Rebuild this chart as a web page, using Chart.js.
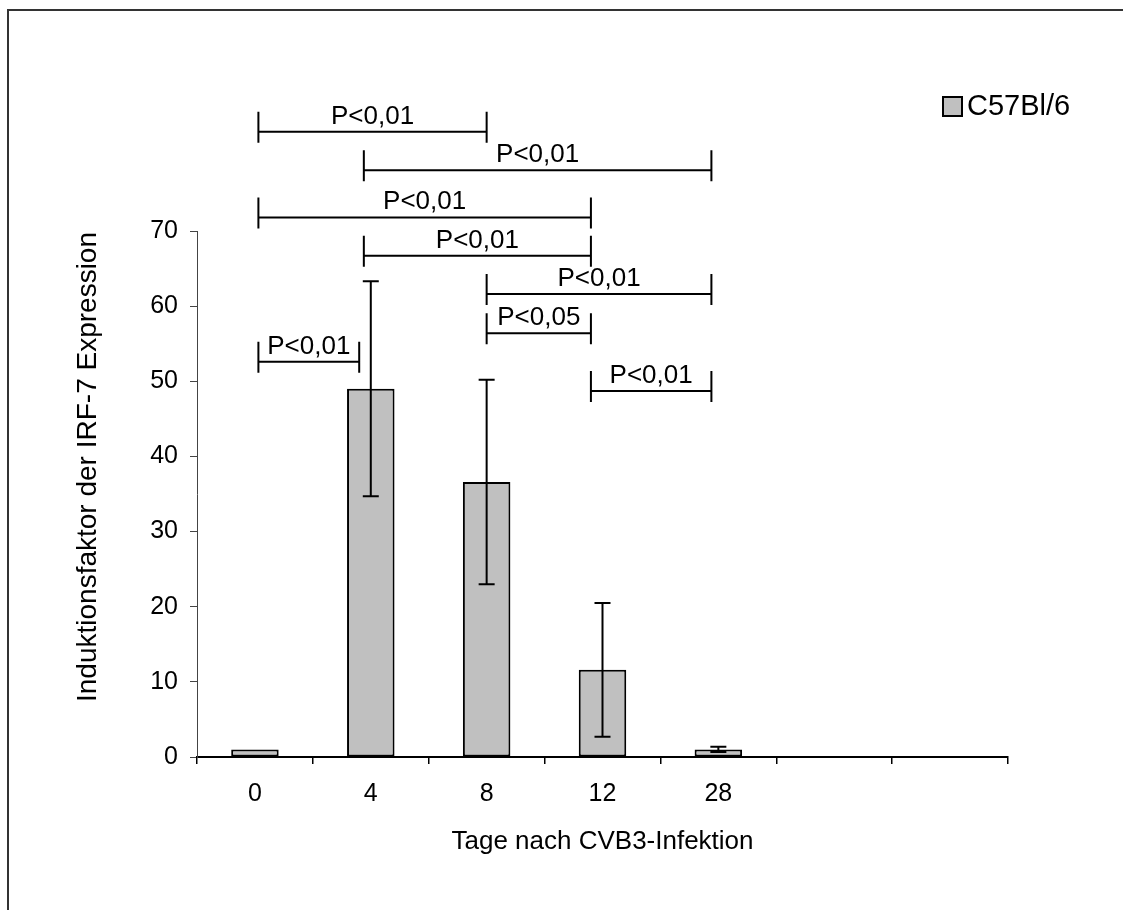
<!DOCTYPE html>
<html>
<head>
<meta charset="utf-8">
<script src="https://cdn.jsdelivr.net/npm/chart.js@4.4.1/dist/chart.umd.min.js"></script>
<style>
body{margin:0;background:#fff;}
</style>
</head>
<body>
<canvas id="chart" width="1123" height="910"></canvas>
<script>
// days after infection (two empty slots on the right, as in the original)
const categories = ["0", "4", "8", "12", "28", "", ""];
const seriesName = "C57Bl/6";
const meanValues = [1.0, 49.0, 36.6, 11.6, 1.0, null, null];
const errorValues = [0, 14.3, 13.6, 8.9, 0.35, null, null];
const yTickValues = [0, 10, 20, 30, 40, 50, 60, 70];
const yTitle = "Induktionsfaktor der IRF-7 Expression";
const xTitle = "Tage nach CVB3-Infektion";

// significance brackets: start/end in category units, height in y units
const bracketFrom = [0.03, 0.94, 0.03, 0.94, 2.0, 2.0, 0.03, 2.9];
const bracketTo = [2.0, 3.94, 2.9, 2.9, 3.94, 2.9, 0.9, 3.94];
const bracketLevel = [83.2, 78.1, 71.8, 66.7, 61.6, 56.4, 52.6, 48.7];
const bracketLabels = ["P<0,01", "P<0,01", "P<0,01", "P<0,01", "P<0,01", "P<0,05", "P<0,01", "P<0,01"];

const fontName = "'Liberation Sans', Arial, Helvetica, sans-serif";
const barColor = "#c0c0c0";

const statsPlugin = {
    id: "stats",
    beforeDraw(chart) {
        const c = chart.ctx;
        c.save();
        c.strokeStyle = "#333";
        c.lineWidth = 2;
        c.beginPath();
        c.moveTo(8, 910);
        c.lineTo(8, 10);
        c.lineTo(1123, 10);
        c.stroke();
        c.restore();
    },
    afterDatasetsDraw(chart) {
        const c = chart.ctx;
        const x = chart.scales.x;
        const y = chart.scales.y;
        c.save();
        c.strokeStyle = "#000";
        c.fillStyle = "#000";
        c.lineWidth = 2;

        // error bars
        meanValues.forEach(function (v, i) {
            const e = errorValues[i];
            if (v === null || !e) {
                return;
            }
            const px = x.getPixelForValue(i);
            const top = y.getPixelForValue(v + e);
            const bot = y.getPixelForValue(v - e);
            c.beginPath();
            c.moveTo(px, top);
            c.lineTo(px, bot);
            c.moveTo(px - 8, top);
            c.lineTo(px + 8, top);
            c.moveTo(px - 8, bot);
            c.lineTo(px + 8, bot);
            c.stroke();
        });

        // brackets
        c.font = "26px " + fontName;
        c.textAlign = "center";
        c.textBaseline = "alphabetic";
        bracketLevel.forEach(function (lv, i) {
            const x1 = x.getPixelForValue(bracketFrom[i]);
            const x2 = x.getPixelForValue(bracketTo[i]);
            const py = y.getPixelForValue(lv);
            c.beginPath();
            c.moveTo(x1, py);
            c.lineTo(x2, py);
            c.moveTo(x1, py - 20);
            c.lineTo(x1, py + 11);
            c.moveTo(x2, py - 20);
            c.lineTo(x2, py + 11);
            c.stroke();
            c.fillText(bracketLabels[i], (x1 + x2) / 2, py - 8);
        });

        // y axis title (sits a bit above the plot centre in the original)
        c.save();
        c.translate(88, 467);
        c.rotate(-Math.PI / 2);
        c.font = "28px " + fontName;
        c.textAlign = "center";
        c.textBaseline = "middle";
        c.fillText(yTitle, 0, 0);
        c.restore();

        // legend
        const ds = chart.data.datasets[0];
        c.fillStyle = ds.backgroundColor;
        c.fillRect(943, 97, 19, 19);
        c.strokeRect(943, 97, 19, 19);
        c.fillStyle = "#000";
        c.font = "29px " + fontName;
        c.textAlign = "left";
        c.textBaseline = "middle";
        c.fillText(ds.label, 967, 107);
        c.restore();
    }
};

const ctx = document.getElementById("chart").getContext("2d");

new Chart(ctx, {
    type: "bar",
    data: {
        labels: categories,
        datasets: [{
            label: seriesName,
            data: meanValues,
            backgroundColor: barColor,
            borderColor: "#000",
            borderWidth: 2,
            borderSkipped: false,
            categoryPercentage: 1.0,
            barPercentage: 0.41
        }]
    },
    options: {
        responsive: false,
        animation: false,
        layout: {
            padding: { left: 72, right: 115, top: 231, bottom: 53 }
        },
        plugins: {
            legend: { display: false },
            tooltip: { enabled: false }
        },
        scales: {
            x: {
                offset: true,
                grid: {
                    offset: true,
                    drawOnChartArea: false,
                    drawTicks: true,
                    tickLength: 7,
                    color: "#000",
                    lineWidth: 1.5
                },
                border: { color: "#000", width: 2 },
                ticks: {
                    color: "#000",
                    padding: 15,
                    font: { family: fontName, size: 25 }
                },
                title: {
                    display: true,
                    text: xTitle,
                    color: "#000",
                    padding: { top: 0, bottom: 0 },
                    font: { family: fontName, size: 26 }
                },
                afterFit: function (scale) {
                    scale.height = 100;
                }
            },
            y: {
                min: 0,
                max: 70,
                grid: {
                    drawOnChartArea: false,
                    drawTicks: true,
                    tickLength: 7,
                    color: "#444",
                    lineWidth: 1
                },
                border: { color: "#444", width: 1 },
                afterBuildTicks: function (scale) {
                    scale.ticks = yTickValues.map(function (v) { return { value: v }; });
                },
                ticks: {
                    color: "#000",
                    padding: 12,
                    font: { family: fontName, size: 25 }
                },
                afterFit: function (scale) {
                    scale.width = 125;
                }
            }
        }
    },
    plugins: [statsPlugin]
});
</script>
</body>
</html>
